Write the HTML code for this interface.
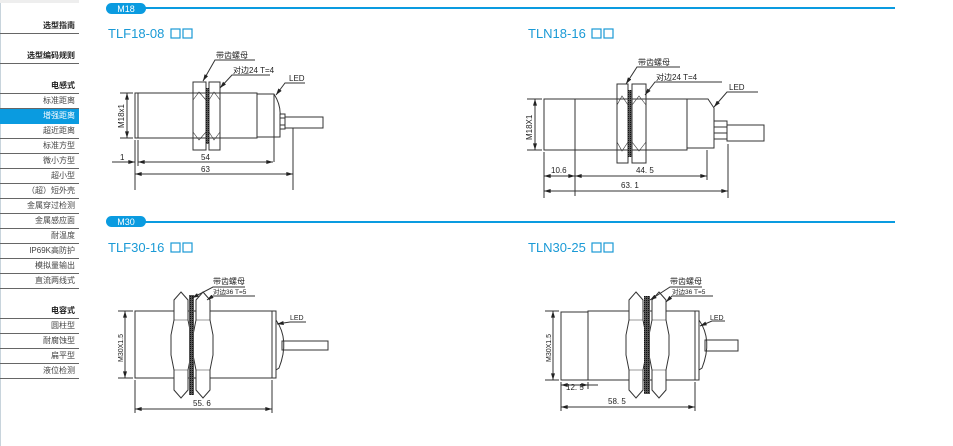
<!DOCTYPE html>
<html><head><meta charset="utf-8"><style>
html,body{margin:0;padding:0;background:#fff;}
body{width:953px;height:446px;overflow:hidden;position:relative;font-family:"Liberation Sans","Noto Sans CJK SC",sans-serif;}
.sb{position:absolute;left:0;width:79px;font-size:8px;color:#444;text-align:right;box-sizing:border-box;padding-right:4px;border-bottom:1.5px solid #666;height:15px;line-height:14px;}
.sb.h{color:#222;font-weight:bold;}
.sb.a{background:#0a9be0;color:#fff;}
svg{position:absolute;left:0;top:0;}
</style></head><body>
<div style="position:absolute;left:0;top:0;width:1px;height:446px;background:#c8d4dc"></div>
<div style="position:absolute;left:0;top:0;width:79px;height:3px;background:#eee"></div>
<div class="sb h" style="top:19px">选型指南</div>
<div class="sb h" style="top:49px">选型编码规则</div>
<div class="sb h" style="top:79px">电感式</div>
<div class="sb" style="top:94px">标准距离</div>
<div class="sb a" style="top:109px;border-bottom:none;height:15px">增强距离</div>
<div class="sb" style="top:124px">超近距离</div>
<div class="sb" style="top:139px">标准方型</div>
<div class="sb" style="top:154px">微小方型</div>
<div class="sb" style="top:169px">超小型</div>
<div class="sb" style="top:184px">（超）短外壳</div>
<div class="sb" style="top:199px">金属穿过检测</div>
<div class="sb" style="top:214px">金属感应面</div>
<div class="sb" style="top:229px">耐温度</div>
<div class="sb" style="top:244px">IP69K高防护</div>
<div class="sb" style="top:259px">模拟量输出</div>
<div class="sb" style="top:274px">直流两线式</div>
<div class="sb h" style="top:304px">电容式</div>
<div class="sb" style="top:319px">圆柱型</div>
<div class="sb" style="top:334px">耐腐蚀型</div>
<div class="sb" style="top:349px">扁平型</div>
<div class="sb" style="top:364px">液位检测</div>

<svg width="953" height="446" viewBox="0 0 953 446" font-family="Liberation Sans, Noto Sans CJK SC, sans-serif">
<defs>
<marker id="ar" viewBox="0 0 10 6" refX="10" refY="3" markerWidth="7" markerHeight="4" orient="auto-start-reverse"><path d="M0,0 L10,3 L0,6Z" fill="#222"/></marker>
<pattern id="th" width="2" height="2" patternUnits="userSpaceOnUse"><rect width="2" height="2" fill="#555"/><rect width="1" height="1" fill="#111"/></pattern>
</defs>
<!-- headers -->
<rect x="140" y="7" width="755" height="2" fill="#0a9be0"/>
<rect x="106" y="3" width="40" height="11" rx="5.5" fill="#0a9be0"/>
<text x="126" y="12" font-size="9" fill="#fff" text-anchor="middle">M18</text>
<rect x="140" y="221" width="755" height="2" fill="#0a9be0"/>
<rect x="106" y="216" width="40" height="11" rx="5.5" fill="#0a9be0"/>
<text x="126" y="225" font-size="9" fill="#fff" text-anchor="middle">M30</text>

<g fill="#1a9ad6" font-size="13">
<text x="108" y="38">TLF18-08</text>
<text x="528" y="38">TLN18-16</text>
<text x="108" y="252">TLF30-16</text>
<text x="528" y="252">TLN30-25</text>
</g>
<g fill="none" stroke="#1a9ad6" stroke-width="1.2">
<rect x="171" y="29" width="9" height="9"/><rect x="183" y="29" width="9" height="9"/>
<rect x="592" y="29" width="9" height="9"/><rect x="604" y="29" width="9" height="9"/>
<rect x="171" y="243" width="9" height="9"/><rect x="183" y="243" width="9" height="9"/>
<rect x="592" y="243" width="9" height="9"/><rect x="604" y="243" width="9" height="9"/>
</g>

<g stroke="#333" stroke-width="1" fill="none" font-size="8">
<!-- TLF18-08 -->
<rect x="135" y="93" width="122" height="45"/>
<line x1="138" y1="93" x2="138" y2="138"/>
<path d="M257,94 H274 Q281,105 280,116 V137 H257"/>
<line x1="274" y1="94" x2="274" y2="162"/>
<rect x="280" y="114" width="5" height="4"/><rect x="280" y="125" width="5" height="4"/>
<rect x="285" y="117" width="38" height="11"/>
<rect x="193" y="82" width="13" height="68"/>
<rect x="209" y="82" width="11" height="68"/>
<rect x="206" y="88" width="3" height="56" fill="url(#th)" stroke="none"/>
<path d="M193,100 L199,92 L206,100 M193,132 L199,140 L206,132 M209,100 L214,92 L220,100 M209,132 L214,140 L220,132" stroke-width="0.6"/>
<line x1="135" y1="140" x2="135" y2="190"/>
<line x1="138" y1="140" x2="138" y2="166"/>
<line x1="293" y1="128" x2="293" y2="190"/>
<line x1="138" y1="162" x2="273" y2="162" marker-start="url(#ar)" marker-end="url(#ar)"/>
<line x1="112" y1="162" x2="135" y2="162" marker-end="url(#ar)"/>
<line x1="135" y1="174" x2="293" y2="174" marker-start="url(#ar)" marker-end="url(#ar)"/>
<line x1="120" y1="93" x2="133" y2="93"/><line x1="120" y1="138" x2="133" y2="138"/>
<line x1="127" y1="93" x2="127" y2="138" marker-start="url(#ar)" marker-end="url(#ar)"/>
<polyline points="255,60 215,60 203,81" marker-end="url(#ar)"/>
<polyline points="270,75 232,75 220,88" marker-end="url(#ar)"/>
<polyline points="305,83 285,83 276,95" marker-end="url(#ar)"/>
<!-- TLN18-16 -->
<rect x="544" y="99" width="143" height="51"/>
<line x1="575" y1="99" x2="575" y2="196"/>
<path d="M687,99 H708 L714,108 V148 H687"/>
<rect x="714" y="121" width="13" height="6"/><rect x="714" y="133" width="13" height="6"/>
<rect x="727" y="125" width="37" height="16"/>
<rect x="617" y="84" width="11" height="79"/>
<rect x="632" y="84" width="14" height="79"/>
<rect x="628" y="90" width="4" height="67" fill="url(#th)" stroke="none"/>
<path d="M617,105 L622,96 L628,105 M617,142 L622,151 L628,142 M632,105 L639,96 L646,105 M632,142 L639,151 L646,142" stroke-width="0.6"/>
<line x1="544" y1="152" x2="544" y2="198"/>
<line x1="707" y1="150" x2="707" y2="180"/>
<line x1="728" y1="144" x2="728" y2="198"/>
<line x1="544" y1="176" x2="575" y2="176" marker-start="url(#ar)" marker-end="url(#ar)"/>
<line x1="575" y1="176" x2="707" y2="176" marker-start="url(#ar)" marker-end="url(#ar)"/>
<line x1="544" y1="191" x2="728" y2="191" marker-start="url(#ar)" marker-end="url(#ar)"/>
<line x1="527" y1="99" x2="542" y2="99"/><line x1="527" y1="150" x2="542" y2="150"/>
<line x1="535" y1="99" x2="535" y2="150" marker-start="url(#ar)" marker-end="url(#ar)"/>
<polyline points="680,67 637,67 626,84" marker-end="url(#ar)"/>
<polyline points="722,82 655,82 645,95" marker-end="url(#ar)"/>
<polyline points="758,92 727,92 714,107" marker-end="url(#ar)"/>
<!-- TLF30-16 -->
<rect x="135" y="311" width="137" height="67"/>
<path d="M272,311 H276 V378 H272"/>
<path d="M276,320 Q290,340 279,368 L276,370"/>
<rect x="282" y="341" width="46" height="9"/>
<path d="M181,292 L188,300 V320 L191,335 V355 L188,370 V390 L181,398 L174,390 V370 L171,355 V335 L174,320 V300 Z" fill="#fff"/>
<path d="M203,292 L210,300 V320 L213,335 V355 L210,370 V390 L203,398 L196,390 V370 L193,355 V335 L196,320 V300 Z" fill="#fff"/>
<rect x="189" y="295" width="5" height="100" fill="url(#th)" stroke="none"/>
<path d="M174,320 H188 M174,370 H188 M196,320 H210 M196,370 H210" stroke-width="0.6"/>
<line x1="135" y1="380" x2="135" y2="413"/><line x1="272" y1="380" x2="272" y2="413"/>
<line x1="135" y1="409" x2="272" y2="409" marker-start="url(#ar)" marker-end="url(#ar)"/>
<line x1="118" y1="311" x2="133" y2="311"/><line x1="118" y1="378" x2="133" y2="378"/>
<line x1="125" y1="311" x2="125" y2="378" marker-start="url(#ar)" marker-end="url(#ar)"/>
<polyline points="245,287 213,287 192,298" marker-end="url(#ar)"/>
<polyline points="255,296 213,296 207,300" marker-end="url(#ar)"/>
<polyline points="306,322 290,322 277,324" marker-end="url(#ar)"/>
<!-- TLN30-25 -->
<rect x="561" y="312" width="27" height="68"/>
<rect x="588" y="311" width="107" height="69"/>
<path d="M695,311 H699 V380 H695"/>
<path d="M699,320 Q713,340 702,368 L699,370"/>
<rect x="705" y="340" width="33" height="11"/>
<path d="M636,292 L643,300 V320 L646,335 V355 L643,370 V390 L636,398 L629,390 V370 L626,355 V335 L629,320 V300 Z" fill="#fff"/>
<path d="M659,292 L666,300 V320 L669,335 V355 L666,370 V390 L659,398 L652,390 V370 L649,355 V335 L652,320 V300 Z" fill="#fff"/>
<rect x="644" y="296" width="6" height="98" fill="url(#th)" stroke="none"/>
<path d="M629,320 H643 M629,370 H643 M652,320 H666 M652,370 H666" stroke-width="0.6"/>
<line x1="561" y1="382" x2="561" y2="411"/><line x1="588" y1="382" x2="588" y2="389"/><line x1="695" y1="382" x2="695" y2="411"/>
<line x1="561" y1="385" x2="588" y2="385" marker-start="url(#ar)" marker-end="url(#ar)"/>
<line x1="588" y1="385" x2="598" y2="385"/>
<line x1="561" y1="407" x2="695" y2="407" marker-start="url(#ar)" marker-end="url(#ar)"/>
<line x1="545" y1="311" x2="559" y2="311"/><line x1="545" y1="380" x2="559" y2="380"/>
<line x1="553" y1="311" x2="553" y2="380" marker-start="url(#ar)" marker-end="url(#ar)"/>
<polyline points="702,287 670,287 650,300" marker-end="url(#ar)"/>
<polyline points="713,296 672,296 666,302" marker-end="url(#ar)"/>
<polyline points="725,321 712,321 700,326" marker-end="url(#ar)"/>
</g>

<g fill="#222" font-size="8">
<text x="216" y="58">带齿螺母</text>
<text x="233" y="73">对边24 T=4</text>
<text x="289" y="81">LED</text>
<text x="120" y="160">1</text>
<text x="201" y="160">54</text>
<text x="201" y="172">63</text>
<text transform="translate(124,128) rotate(-90)">M18x1</text>
<text x="638" y="65">带齿螺母</text>
<text x="656" y="80">对边24 T=4</text>
<text x="729" y="90">LED</text>
<text x="551" y="173">10.6</text>
<text x="636" y="173">44. 5</text>
<text x="621" y="188">63. 1</text>
<text transform="translate(532,140) rotate(-90)">M18X1</text>
<text x="213" y="284">带齿螺母</text>
<text x="213" y="294" font-size="6.5">对边36 T=5</text>
<text x="290" y="320" font-size="7">LED</text>
<text x="193" y="406">55. 6</text>
<text transform="translate(123,362) rotate(-90)" font-size="7">M30X1.5</text>
<text x="670" y="284">带齿螺母</text>
<text x="672" y="294" font-size="6.5">对边36 T=5</text>
<text x="710" y="320" font-size="7">LED</text>
<text x="566" y="390">12. 5</text>
<text x="608" y="404">58. 5</text>
<text transform="translate(551,362) rotate(-90)" font-size="7">M30X1.5</text>
</g>
</svg>
</body></html>
